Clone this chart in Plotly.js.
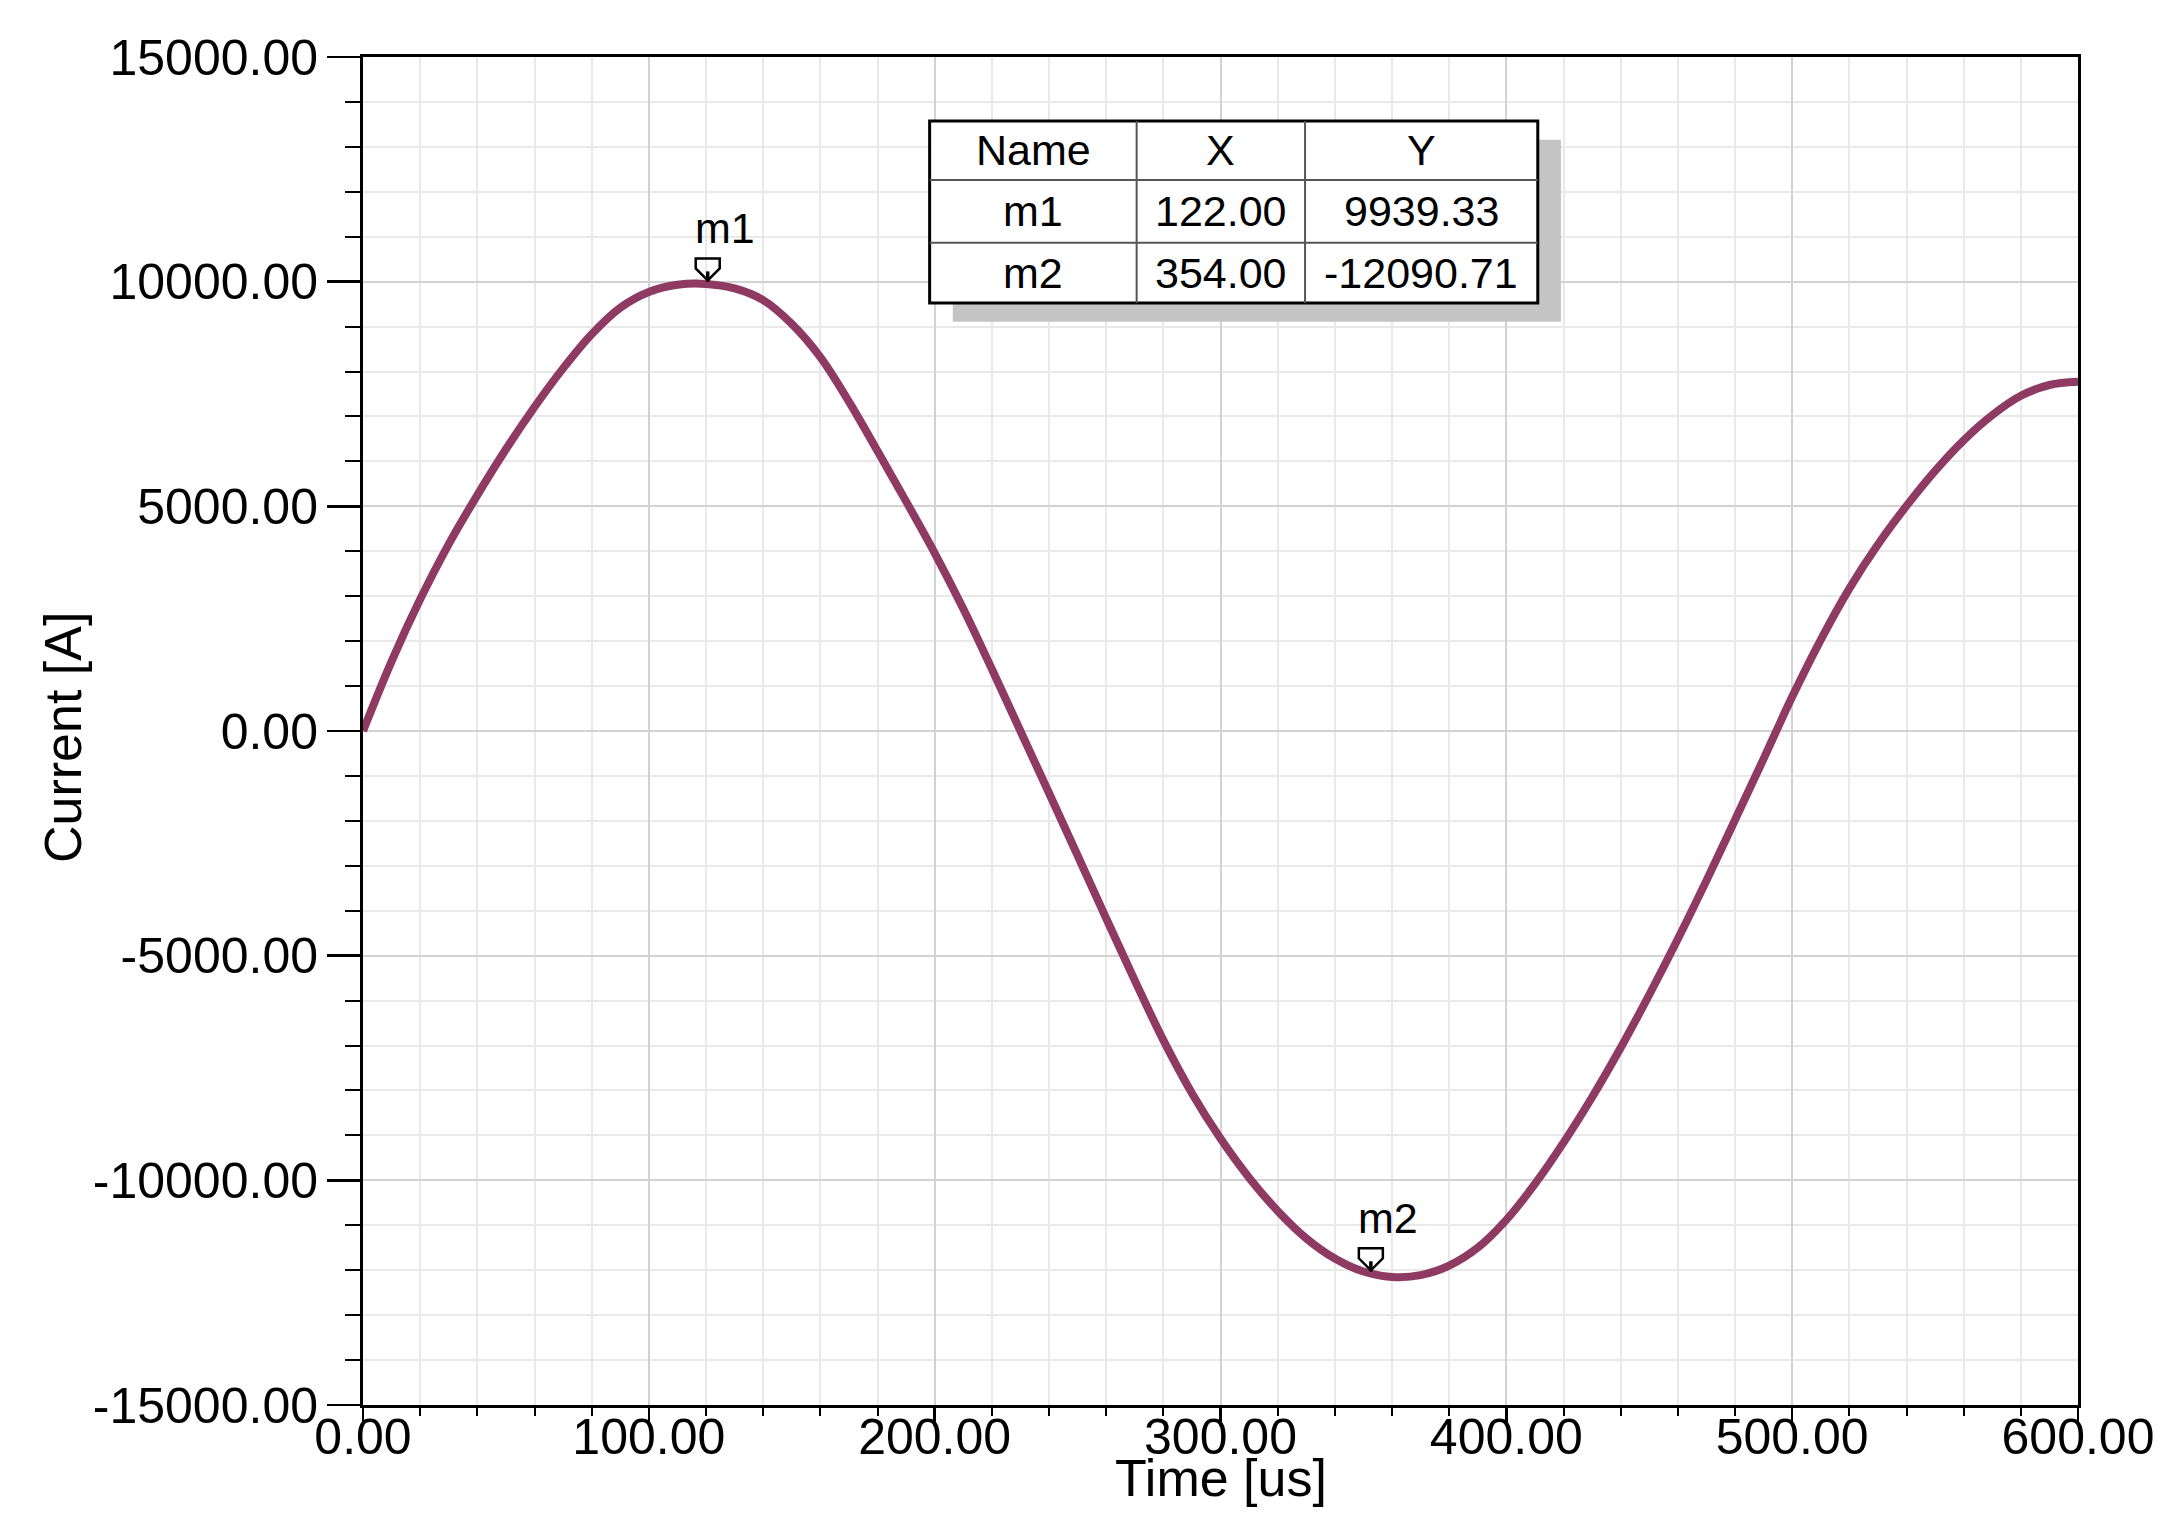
<!DOCTYPE html>
<html>
<head>
<meta charset="utf-8">
<script src="https://cdn.plot.ly/plotly-3.0.1.min.js"></script>
<style>
html,body{margin:0;padding:0;background:#fff;}
#chart{width:2182px;height:1528px;}
</style>
</head>
<body>
<div id="chart"></div>
<script>
// ---- data ----
const timeUs = [0,10,20,30,40,50,60,70,80,90,100,110,120,130,140,150,160,170,180,190,200,
  210,220,230,240,250,260,270,280,290,300,310,320,330,340,350,360,370,380,390,400,
  410,420,430,440,450,460,470,480,490,500,510,520,530,540,550,560,570,580,590,600];
const currentA = [0,1550,2930,4160,5250,6270,7210,8070,8830,9420,9770,9930,9950,9850,9590,9060,8320,7330,6230,5110,3960,
  2720,1380,0,-1380,-2770,-4170,-5550,-6880,-8060,-9070,-9940,-10680,-11290,-11740,-12030,-12150,-12110,-11900,-11500,-10880,
  -10080,-9160,-8150,-7050,-5870,-4630,-3330,-1980,-620,760,2030,3170,4150,5010,5790,6470,7030,7460,7700,7770];

const markerNames = ['m1','m2'];
const markerX = [122.00, 354.00];
const markerY = [9939.33, -12090.71];
const tableHeader = ['Name','X','Y'];

const xTicks = [0,100,200,300,400,500,600];
const yTicks = [-15000,-10000,-5000,0,5000,10000,15000];
const xTitle = 'Time [us]';
const yTitle = 'Current [A]';

// ---- styling ----
const FONT = 'Liberation Sans, Arial, Helvetica, sans-serif';
const lineColor = '#8e3a63';

const trace = {
  x: timeUs, y: currentA, type: 'scatter', mode: 'lines',
  line: {color: lineColor, width: 8, shape: 'spline', smoothing: 1},
  hoverinfo: 'x+y', showlegend: false
};

// table geometry (paper coordinates)
const tbl = {x0: 0.3304, x1: 0.6850, y0: 0.8175, y1: 0.9525,
  cols: [0.3304, 0.4511, 0.5493, 0.6850], rows: [0.9525, 0.9088, 0.8622, 0.8175]};
const shadow = {dx: 0.0135, dy: -0.0139};

const shapes = [];
const annotations = [];

// shadow
shapes.push({type:'rect', xref:'paper', yref:'paper', layer:'above',
  x0: tbl.x0 + shadow.dx, x1: tbl.x1 + shadow.dx, y0: tbl.y0 + shadow.dy, y1: tbl.y1 + shadow.dy,
  fillcolor:'#c4c4c4', line:{width:0}});
// table box
shapes.push({type:'rect', xref:'paper', yref:'paper', layer:'above',
  x0: tbl.x0, x1: tbl.x1, y0: tbl.y0, y1: tbl.y1, fillcolor:'#ffffff', line:{color:'#000', width:3}});
// inner lines
[tbl.cols[1], tbl.cols[2]].forEach(cx => shapes.push({type:'line', xref:'paper', yref:'paper', layer:'above',
  x0: cx, x1: cx, y0: tbl.y0, y1: tbl.y1, line:{color:'#555', width:2}}));
[tbl.rows[1], tbl.rows[2]].forEach(ry => shapes.push({type:'line', xref:'paper', yref:'paper', layer:'above',
  x0: tbl.x0, x1: tbl.x1, y0: ry, y1: ry, line:{color:'#555', width:2}}));

// table text
const cellRows = [tableHeader].concat(markerNames.map((n,i) => [n, markerX[i].toFixed(2), markerY[i].toFixed(2)]));
cellRows.forEach((row, r) => {
  row.forEach((txt, c) => {
    annotations.push({xref:'paper', yref:'paper', showarrow:false,
      x: (tbl.cols[c] + tbl.cols[c+1]) / 2, y: (tbl.rows[r] + tbl.rows[r+1]) / 2,
      xanchor:'center', yanchor:'middle', text: txt,
      font:{family: FONT, size: 43, color:'#000'}});
  });
});

// marker glyphs and labels
markerNames.forEach((n, i) => {
  shapes.push({type:'path', xref:'x', yref:'y', layer:'above',
    xsizemode:'pixel', ysizemode:'pixel', xanchor: markerX[i], yanchor: markerY[i],
    path:'M-16,26 L8,26 L8,16 L-4,4 L-16,16 Z', fillcolor:'rgba(255,255,255,0)', line:{color:'#000', width:2.5}});
  shapes.push({type:'path', xref:'x', yref:'y', layer:'above',
    xsizemode:'pixel', ysizemode:'pixel', xanchor: markerX[i], yanchor: markerY[i],
    path:'M-4,13 L-4,3', line:{color:'#000', width:3.5}});
  annotations.push({xref:'x', yref:'y', x: markerX[i], y: markerY[i], showarrow:false,
    xanchor:'left', yanchor:'bottom', xshift:-19, yshift:30, text: n,
    font:{family: FONT, size: 43, color:'#000'}});
});

// axis titles, placed like the reference (overlapping the tick-label bands)
annotations.push({xref:'paper', yref:'paper', x: -0.1749, y: 0.4948, showarrow:false,
  xanchor:'center', yanchor:'middle', textangle: -90, text: yTitle,
  font:{family: FONT, size: 52, color:'#000'}});
annotations.push({xref:'paper', yref:'paper', x: 0.5, y: -0.0542, showarrow:false,
  xanchor:'center', yanchor:'middle', text: xTitle,
  font:{family: FONT, size: 52, color:'#000'}});

const tickFont = {family: FONT, size: 50, color:'#000'};

const layout = {
  width: 2182, height: 1528,
  margin: {l: 363, r: 104, t: 57, b: 123, pad: 0},
  paper_bgcolor:'#ffffff', plot_bgcolor:'#ffffff',
  font: {family: FONT, color:'#000'},
  showlegend: false,
  xaxis: {
    range: [0, 600], tickmode:'array', tickvals: xTicks, ticktext: xTicks.map(v => v.toFixed(2)),
    ticks:'outside', ticklen: 18, tickwidth: 2.5, tickcolor:'#000',
    showline: true, linecolor:'#000', linewidth: 3, mirror: true,
    showgrid: true, gridcolor:'#d2d2d2', gridwidth: 2, zeroline: false,
    minor: {tickmode:'linear', tick0: 0, dtick: 20, ticks:'outside', ticklen: 8, tickwidth: 2, tickcolor:'#000',
      showgrid: true, gridcolor:'#e9e9e9', gridwidth: 2},
    tickfont: tickFont, ticklabelstandoff: -32,
    automargin: false, fixedrange: true
  },
  yaxis: {
    range: [-15000, 15000], tickmode:'array', tickvals: yTicks, ticktext: yTicks.map(v => v.toFixed(2)),
    ticks:'outside', ticklen: 33, tickwidth: 2.5, tickcolor:'#000',
    showline: true, linecolor:'#000', linewidth: 3, mirror: true,
    showgrid: true, gridcolor:'#d2d2d2', gridwidth: 2, zeroline: false,
    minor: {tickmode:'linear', tick0: 0, dtick: 1000, ticks:'outside', ticklen: 15, tickwidth: 2, tickcolor:'#000',
      showgrid: true, gridcolor:'#e9e9e9', gridwidth: 2},
    tickfont: tickFont, ticklabelstandoff: -1,
    automargin: false, fixedrange: true
  },
  shapes: shapes,
  annotations: annotations
};

Plotly.newPlot('chart', [trace], layout, {displayModeBar: false, staticPlot: true});
</script>
</body>
</html>
